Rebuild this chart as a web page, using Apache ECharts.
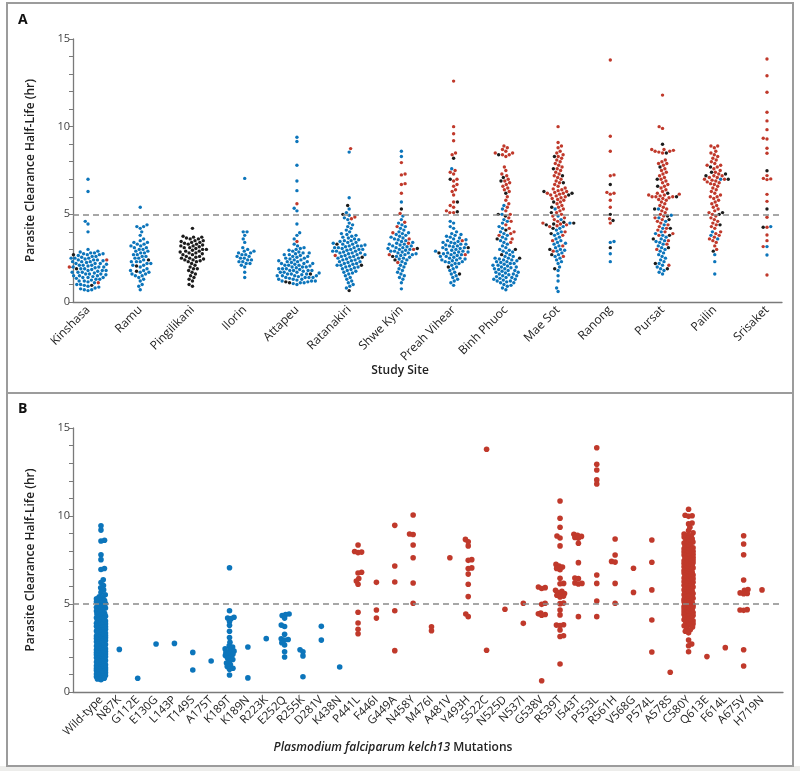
<!DOCTYPE html>
<html><head><meta charset="utf-8">
<script src="https://cdn.jsdelivr.net/npm/echarts@6/dist/echarts.min.js"></script>
<style>html,body{margin:0;padding:0;background:#fff}#c{width:800px;height:771px}</style>
</head><body><div id="c"></div>
<script>
// ---------------- DATA ----------------
const sites = ['Kinshasa','Ramu','Pingilikani','Ilorin','Attapeu','Ratanakiri','Shwe Kyin','Preah Vihear','Binh Phuoc','Mae Sot','Ranong','Pursat','Pailin','Srisaket'];
const yTickLabels = [0, 5, 10, 15];

// Panel A: half-lives by site, split by kelch13 genotype colour
const siteWildType = [
 [7.0,6.3,4.6,4.45,4.0,3.0,2.9,2.85,2.8,2.8,2.75,2.75,2.7,2.7,2.65,2.6,2.6,2.55,2.5,2.5,2.5,2.45,2.4,2.4,2.4,2.35,2.3,2.3,2.3,2.25,2.2,2.2,2.2,2.15,2.1,2.1,2.1,2.05,2.0,2.0,2.0,1.95,1.9,1.9,1.85,1.8,1.8,1.8,1.75,1.7,1.7,1.7,1.65,1.6,1.6,1.6,1.55,1.5,1.5,1.5,1.45,1.4,1.4,1.4,1.35,1.3,1.3,1.25,1.2,1.2,1.15,1.1,1.0,1.0,0.95,0.9,0.85,0.8,0.75,0.7,0.7,0.65],
 [5.4,4.4,4.3,4.3,4.2,4.0,3.8,3.6,3.5,3.4,3.4,3.3,3.3,3.2,3.2,3.1,3.1,3.0,3.0,2.9,2.9,2.8,2.8,2.7,2.7,2.6,2.6,2.5,2.5,2.4,2.3,2.3,2.3,2.2,2.2,2.1,2.1,2.0,1.9,1.8,1.8,1.7,1.7,1.6,1.6,1.5,1.5,1.4,1.3,1.2,1.0,0.9,0.7],
 [],
 [7.05,4.0,4.0,3.8,3.6,3.4,3.1,3.0,2.9,2.9,2.8,2.8,2.7,2.7,2.6,2.6,2.5,2.5,2.4,2.4,2.3,2.3,2.2,2.2,2.1,2.0,1.7,1.4],
 [9.4,9.15,7.8,6.9,6.35,5.35,5.2,4.45,3.95,3.8,3.6,3.3,3.2,3.1,3.05,3.0,2.95,2.9,2.85,2.8,2.8,2.75,2.7,2.7,2.65,2.6,2.6,2.55,2.5,2.5,2.45,2.4,2.4,2.35,2.3,2.3,2.3,2.25,2.2,2.2,2.2,2.15,2.1,2.1,2.1,2.05,2.0,2.0,2.0,1.95,1.9,1.9,1.9,1.85,1.8,1.8,1.8,1.8,1.75,1.7,1.7,1.7,1.65,1.6,1.6,1.6,1.55,1.5,1.5,1.5,1.5,1.45,1.4,1.4,1.4,1.4,1.35,1.3,1.3,1.3,1.25,1.2,1.2,1.2,1.15,1.1,1.1,1.05,1.0],
 [8.55,5.95,5.3,5.1,4.95,4.8,4.7,4.5,4.4,4.3,4.2,4.1,4.0,3.9,3.85,3.8,3.75,3.7,3.65,3.6,3.55,3.5,3.5,3.45,3.4,3.4,3.35,3.3,3.3,3.25,3.2,3.2,3.2,3.15,3.1,3.1,3.1,3.05,3.0,3.0,3.0,2.95,2.9,2.9,2.9,2.85,2.8,2.8,2.8,2.75,2.7,2.7,2.65,2.6,2.6,2.55,2.5,2.5,2.45,2.4,2.4,2.35,2.3,2.3,2.25,2.2,2.2,2.15,2.1,2.1,2.05,2.0,2.0,1.95,1.9,1.85,1.8,1.75,1.7,1.65,1.6,1.5,1.4,1.3,1.2,1.1,1.0,0.9,0.8],
 [8.6,8.3,5.7,4.9,4.7,4.5,4.4,4.3,4.2,4.1,4.0,3.95,3.9,3.85,3.8,3.75,3.7,3.65,3.6,3.55,3.5,3.45,3.4,3.35,3.3,3.3,3.25,3.2,3.2,3.15,3.1,3.1,3.05,3.0,3.0,2.95,2.9,2.9,2.85,2.8,2.8,2.75,2.7,2.7,2.65,2.6,2.55,2.5,2.45,2.4,2.3,2.2,2.1,2.0,1.9,1.8,1.7,1.6,1.5,1.4,1.3,1.1,0.75],
 [7.6,4.6,4.5,4.3,4.2,4.0,3.9,3.85,3.8,3.75,3.7,3.65,3.6,3.55,3.5,3.45,3.4,3.4,3.35,3.3,3.3,3.25,3.2,3.2,3.15,3.1,3.1,3.05,3.0,3.0,2.95,2.9,2.9,2.85,2.85,2.8,2.8,2.75,2.7,2.7,2.65,2.6,2.6,2.55,2.5,2.5,2.45,2.4,2.4,2.35,2.3,2.3,2.25,2.2,2.2,2.1,2.0,1.9,1.8,1.7,1.6,1.5,1.4,1.3,1.2,1.1,0.95],
 [5.5,5.3,5.0,4.7,4.6,4.5,4.3,4.2,4.0,3.9,3.8,3.7,3.6,3.5,3.4,3.3,3.2,3.1,3.0,2.95,2.9,2.85,2.8,2.7,2.6,2.6,2.5,2.5,2.45,2.4,2.4,2.35,2.3,2.3,2.25,2.2,2.2,2.15,2.1,2.1,2.05,2.0,2.0,1.95,1.9,1.9,1.85,1.8,1.8,1.75,1.7,1.7,1.65,1.6,1.6,1.55,1.5,1.5,1.45,1.4,1.4,1.35,1.3,1.3,1.25,1.2,1.2,1.15,1.1,1.1,1.0,0.95,0.9,0.8,0.7],
 [5.3,4.9,4.7,4.5,4.3,4.2,4.1,4.0,3.9,3.8,3.7,3.6,3.5,3.4,3.35,3.3,3.2,3.1,3.0,2.95,2.9,2.8,2.7,2.6,2.5,2.4,2.3,2.2,2.0,1.8,1.5,1.2,0.8,0.6],
 [3.45,3.4,2.75,2.3],
 [5.3,4.95,4.8,4.6,4.4,4.2,4.0,3.9,3.8,3.7,3.6,3.5,3.45,3.4,3.3,3.2,3.1,3.0,2.9,2.8,2.7,2.6,2.5,2.4,2.3,2.2,2.1,2.0,1.9,1.8,1.7,1.6],
 [7.0,4.0,3.8,3.6,2.7,2.3,1.6],
 [4.3,3.16,2.68]
];
const siteC580Y = [
 [2.0,1.1,2.4],
 [],
 [],
 [],
 [5.6,3.45],
 [8.75,4.85,4.75,2.65],
 [7.95,7.3,7.25,6.75,6.7,6.2,5.05,4.55,4.3,3.95,3.6,3.35,3.0,2.7,2.25],
 [12.6,10.0,9.6,9.2,8.5,8.4,7.5,7.4,7.3,7.0,6.9,6.7,6.6,6.4,6.3,6.1,5.7,5.5,5.4,5.2,5.1,5.1,3.5,2.7],
 [8.9,8.8,8.7,8.6,8.5,8.5,8.4,8.4,8.3,7.7,7.5,7.3,7.2,7.0,6.9,6.8,6.7,6.6,6.5,6.4,6.3,6.0,5.8,5.6,5.4,5.2,5.0,4.8,4.6,4.4,4.2,4.0,3.9,3.8,3.6,3.4],
 [10.0,9.1,8.9,8.8,8.6,8.5,8.4,8.3,8.2,8.1,8.0,7.9,7.8,7.7,7.6,7.5,7.4,7.3,7.2,7.1,7.0,6.9,6.8,6.7,6.6,6.5,6.45,6.4,6.35,6.3,6.25,6.2,6.2,6.15,6.1,6.05,6.0,5.95,5.9,5.85,5.8,5.7,5.6,5.5,5.4,5.3,5.2,5.1,5.0,4.9,4.8,4.7,4.6,4.5,4.45,4.4,4.35,4.3,4.0,3.8,3.5,3.2,2.9,2.6],
 [13.8,9.45,8.6,7.2,7.25,6.2,6.15,6.25,5.8,5.4,4.75,4.5],
 [11.8,10.0,9.9,8.7,8.7,8.65,8.6,8.6,8.55,8.5,8.1,8.0,7.9,7.9,7.8,7.6,7.5,7.4,7.3,7.2,7.1,7.0,6.9,6.8,6.7,6.6,6.5,6.4,6.3,6.2,6.15,6.1,6.1,6.05,6.0,6.0,6.0,5.95,5.9,5.85,5.8,5.7,5.6,5.5,5.4,5.3,5.2,5.1,5.0,4.9,4.8,4.7,4.6,4.5,4.4,4.3,4.2,4.1,4.0,3.9,3.8,3.5,3.3,3.0,2.1],
 [8.9,8.9,8.8,8.6,8.5,8.4,8.3,8.2,8.1,8.0,7.9,7.8,7.8,7.7,7.6,7.5,7.4,7.3,7.2,7.2,7.1,7.1,7.0,7.0,6.95,6.9,6.85,6.8,6.75,6.7,6.6,6.5,6.4,6.3,6.2,6.1,6.0,6.0,5.9,5.8,5.7,5.6,5.5,5.4,5.3,5.2,5.1,5.0,4.9,4.8,4.7,4.6,4.5,4.4,4.3,4.2,4.0,3.9,3.8,3.7,3.6,3.5,3.4,3.2,3.0],
 [13.86,12.9,11.96,10.82,10.33,9.83,9.34,9.3,8.77,8.48,7.21,7.05,7.02,6.98,6.14,5.74,4.83,4.26,3.82,3.5,3.16,1.54]
];
const siteOtherMutant = [
 [1.9,0.95,2.7],
 [2.4,2.05,1.75],
 [4.2,3.75,3.7,3.7,3.65,3.6,3.6,3.5,3.5,3.45,3.4,3.4,3.35,3.3,3.3,3.25,3.2,3.2,3.15,3.1,3.1,3.05,3.0,3.0,2.95,2.9,2.9,2.85,2.8,2.8,2.75,2.7,2.7,2.6,2.6,2.55,2.5,2.5,2.45,2.4,2.4,2.35,2.3,2.3,2.2,2.1,2.0,1.9,1.9,1.8,1.7,1.6,1.5,1.4,1.3,1.2,1.0,0.9],
 [],
 [1.1,1.6,1.15],
 [5.5,5.0,3.3,2.1,2.55,0.65],
 [5.3,3.05,2.6,2.4],
 [8.2,7.0,5.7,5.15,3.1,2.8,1.6,2.0],
 [8.4,7.1,6.9,6.2,5.0,4.9,4.1,3.6,3.0,2.7,2.5],
 [8.3,7.6,7.2,6.8,6.3,6.2,6.1,5.7,5.4,5.1,4.55,4.5,4.45,4.4,4.2,3.9,3.0,2.7,1.9],
 [6.7,5.0,4.65,3.1],
 [9.0,8.5,7.7,7.0,6.6,6.2,6.0,5.3,4.9,4.7,4.2,3.8,3.6,3.1,2.2,1.9],
 [7.7,7.4,7.3,7.2,7.0,5.1,5.0,4.4,2.9],
 [7.49,5.3,4.26]
];

// Panel B: half-lives by kelch13 mutation
const mutations = ['Wild-type','N87K','G112E','E130G','L143P','T149S','A175T','K189T','K189N','R223K','E252Q','R255K','D281V','K438N','P441L','F446I','G449A','N458Y','M476I','A481V','Y493H','S522C','N525D','N537I','G538V','R539T','I543T','P553L','R561H','V568G','P574L','A578S','C580Y','Q613E','F614L','A675V','H719N'];
const firstPropellerMutation = 'P441L';
const mutationValues = [
 [9.45,9.2,8.62,8.58,7.8,7.52,7.02,6.96,6.38,6.22,6.05,5.92,5.8,5.66,5.52,5.41,5.37,5.3,5.24,5.2,5.13,5.07,5.03,4.98,4.9,4.88,4.81,4.77,4.7,4.66,4.6,4.55,4.47,4.43,4.39,4.31,4.27,4.22,4.18,4.12,4.07,4.03,3.99,3.94,3.9,3.87,3.83,3.79,3.74,3.71,3.69,3.63,3.6,3.57,3.52,3.49,3.47,3.42,3.38,3.35,3.32,3.28,3.24,3.21,3.18,3.14,3.1,3.08,3.04,3.01,2.98,2.95,2.92,2.88,2.85,2.82,2.8,2.76,2.73,2.7,2.66,2.63,2.61,2.57,2.54,2.51,2.48,2.45,2.42,2.4,2.36,2.33,2.3,2.27,2.24,2.21,2.18,2.16,2.12,2.09,2.06,2.03,2.0,1.97,1.94,1.91,1.89,1.85,1.82,1.79,1.76,1.73,1.7,1.67,1.64,1.62,1.58,1.55,1.52,1.49,1.46,1.43,1.4,1.37,1.34,1.31,1.28,1.25,1.22,1.19,1.16,1.13,1.1,1.06,1.02,0.98,0.94,0.9,0.86,0.82,0.78,0.74,0.7],
 [2.42],
 [0.78],
 [2.73],
 [2.76],
 [2.25,1.25],
 [1.76],
 [7.06,4.62,4.25,4.2,4.18,4.0,3.79,3.45,3.1,2.82,2.62,2.55,2.45,2.4,2.32,2.25,2.2,2.15,2.08,2.0,1.92,1.85,1.75,1.65,1.55,1.45,1.35,1.29,0.97],
 [2.56,0.8],
 [3.03],
 [4.43,4.4,4.35,4.2,3.8,3.72,3.28,3.02,2.98,2.95,2.8,2.67,2.29,1.99],
 [2.4,2.28,2.05,0.87],
 [3.73,2.95],
 [1.42],
 [8.35,7.98,7.95,7.92,6.8,6.76,6.45,6.3,6.12,4.53,3.92,3.56,3.31],
 [6.23,4.66,4.2],
 [9.47,7.16,6.25,4.62,2.35],
 [10.06,8.98,8.95,8.35,7.63,6.19,5.04],
 [3.71,3.48],
 [7.63],
 [8.67,8.54,8.3,7.52,7.48,7.05,7.01,6.7,6.12,5.42,4.43,4.28],
 [13.79,2.37],
 [4.7],
 [5.04,3.9],
 [5.97,5.93,5.88,5.04,4.98,4.48,4.44,4.4,4.36,0.64],
 [10.85,9.87,9.36,8.86,8.75,8.3,7.25,7.15,7.1,7.02,6.95,6.46,6.17,6.15,5.78,5.72,5.65,5.6,5.55,5.5,5.45,5.4,5.05,5.02,4.66,4.38,3.82,3.8,3.78,3.52,3.2,3.15,1.59],
 [8.96,8.9,8.84,8.78,8.73,8.45,7.35,6.48,6.44,6.2,6.17,6.14,4.28],
 [13.88,12.94,12.61,12.05,11.82,6.65,6.17,5.17,4.28],
 [8.69,7.78,7.42,7.38,6.17,5.04],
 [7.03,5.66],
 [8.64,7.37,5.8,4.09,2.27],
 [1.12],
 [10.38,10.04,10.01,9.98,9.6,9.55,9.36,9.17,9.05,8.98,8.92,8.88,8.81,8.74,8.7,8.63,8.58,8.52,8.47,8.41,8.36,8.3,8.25,8.2,8.14,8.1,8.05,8.0,7.96,7.91,7.86,7.82,7.78,7.74,7.7,7.65,7.62,7.58,7.54,7.5,7.46,7.42,7.38,7.34,7.3,7.27,7.23,7.2,7.16,7.12,7.08,7.05,7.01,6.98,6.94,6.9,6.87,6.83,6.8,6.76,6.72,6.69,6.65,6.62,6.58,6.55,6.51,6.48,6.44,6.41,6.37,6.34,6.3,6.27,6.24,6.2,6.17,6.13,6.1,6.06,6.03,6.0,5.96,5.93,5.9,5.86,5.83,5.8,5.76,5.73,5.7,5.66,5.63,5.6,5.56,5.53,5.5,5.46,5.43,5.4,5.36,5.33,5.3,5.26,5.23,5.2,5.16,5.13,5.1,5.06,5.03,5.0,4.96,4.93,4.9,4.86,4.83,4.8,4.76,4.72,4.68,4.64,4.6,4.56,4.52,4.48,4.44,4.4,4.35,4.3,4.25,4.2,4.15,4.1,4.05,4.0,3.94,3.88,3.82,3.76,3.7,3.62,3.54,3.45,3.36,2.95,2.73,2.63,2.29],
 [2.01],
 [2.52],
 [8.88,8.41,7.8,6.36,5.82,5.78,5.63,5.6,5.58,4.68,4.66,4.64,2.4,1.48],
 [5.8]
];

// ---------------- STYLE / LAYOUT ----------------
const BLUE = '#0c75bb', RED = '#c0392b', BLACK = '#1c1c1c';
const FONT = '"Open Sans", "DejaVu Sans", sans-serif';
const A = { frameLeft: 73, frameW: 709, top: 39, h: 263, dataLeft: 61.9, dataW: 731.2 };
const B = { frameLeft: 73, frameW: 710, top: 428, h: 264, dataLeft: 91.8, dataW: 679.4 };

// deterministic beeswarm placement (pixel offsets)
function swarm(values, pxPerUnit, d, maxW) {
  const order = values.map((v, i) => i).sort((a, b) => values[a] - values[b]);
  const placed = [], res = new Array(values.length);
  order.forEach((idx, k) => {
    const y = values[idx] * pxPerUnit;
    const near = placed.filter(p => Math.abs(p.y - y) < d);
    const cands = [0];
    near.forEach(p => { const dx = Math.sqrt(d * d - (p.y - y) * (p.y - y)); cands.push(p.x + dx + 0.01, p.x - dx - 0.01); });
    cands.sort((a, b) => (Math.abs(a) - Math.abs(b)) || (k % 2 ? a - b : b - a));
    let x = null;
    for (const c of cands) {
      if (Math.abs(c) > maxW) continue;
      if (near.every(p => (p.x - c) * (p.x - c) + (p.y - y) * (p.y - y) >= d * d - 0.001)) { x = c; break; }
    }
    if (x === null) {
      let best = 0, bestD = -1;
      for (let t = -maxW; t <= maxW + 1e-9; t += maxW / 5) {
        const md = Math.min(...near.map(p => (p.x - t) * (p.x - t) + (p.y - y) * (p.y - y)));
        if (md > bestD + 1e-6) { bestD = md; best = t; }
      }
      x = best;
    }
    placed.push({ x, y }); res[idx] = x;
  });
  return res;
}

// Panel A points
const aPyU = A.h / 15, aPxCat = A.dataW / sites.length;
const aBlue = [], aRed = [], aBlack = [];
sites.forEach((s, i) => {
  const vals = [], cols = [];
  siteWildType[i].forEach(v => { vals.push(v); cols.push(0); });
  siteC580Y[i].forEach(v => { vals.push(v); cols.push(1); });
  siteOtherMutant[i].forEach(v => { vals.push(v); cols.push(2); });
  const off = swarm(vals, aPyU, 3.8, Infinity);
  vals.forEach((v, j) => {
    const pt = [i + off[j] / aPxCat, v];
    [aBlue, aRed, aBlack][cols[j]].push(pt);
  });
});

// Panel B points
const bPyU = B.h / 15, bPxCat = B.dataW / mutations.length;
const propIdx = mutations.indexOf(firstPropellerMutation);
const bBlue = [], bRed = [];
mutations.forEach((m, i) => {
  const vals = mutationValues[i];
  const off = swarm(vals, bPyU, 3.6, 4.5);
  vals.forEach((v, j) => { (i < propIdx ? bBlue : bRed).push([i + off[j] / bPxCat, v]); });
});

function frameY(gi) {
  return { gridIndex: gi, type: 'value', min: 0, max: 15, interval: 1,
    name: 'Parasite Clearance Half-Life (hr)', nameLocation: 'middle', nameGap: 36,
    nameTextStyle: { fontFamily: FONT, fontSize: 12, fontWeight: 600, color: '#222' },
    axisLine: { show: true, lineStyle: { color: '#7a7a7a', width: 1.3 } },
    axisTick: { show: true, length: 4, lineStyle: { color: '#7a7a7a', width: 1 } },
    axisLabel: { margin: 3, fontFamily: FONT, fontSize: 11, color: '#444',
      formatter: v => yTickLabels.indexOf(v) >= 0 ? String(v) : '' },
    splitLine: { show: false } };
}
function hiddenY(gi) { return { gridIndex: gi, type: 'value', min: 0, max: 15, show: false }; }
function frameX(gi) {
  return { gridIndex: gi, type: 'value', min: 0, max: 1, axisLine: { show: true, onZero: false, lineStyle: { color: '#7a7a7a', width: 1.3 } },
    axisTick: { show: false }, axisLabel: { show: false }, splitLine: { show: false } };
}
function catX(gi, data, fs) {
  return { gridIndex: gi, type: 'category', data: data, axisLine: { show: false }, axisTick: { show: false },
    axisLabel: { interval: 0, rotate: 45, margin: 6, fontFamily: FONT, fontSize: fs, color: '#222' } };
}
function dashLine(xi, yi) {
  return { type: 'scatter', xAxisIndex: xi, yAxisIndex: yi, data: [[0.5, 5]], symbolSize: 0, silent: true,
    markLine: { silent: true, symbol: 'none', label: { show: false },
      lineStyle: { type: [6, 4], color: '#8a8a8a', width: 1.5 }, data: [{ yAxis: 5 }] } };
}
function dots(xi, yi, data, color, size) {
  return { type: 'scatter', xAxisIndex: xi, yAxisIndex: yi, data: data, symbol: 'circle', symbolSize: size,
    itemStyle: { color: color, opacity: 1 }, silent: true };
}

const option = {
  animation: false,
  backgroundColor: '#ffffff',
  grid: [
    { left: A.frameLeft, top: A.top, width: A.frameW, height: A.h },
    { left: A.dataLeft, top: A.top, width: A.dataW, height: A.h },
    { left: B.frameLeft, top: B.top, width: B.frameW, height: B.h },
    { left: B.dataLeft, top: B.top, width: B.dataW, height: B.h }
  ],
  xAxis: [
    frameX(0),
    catX(1, sites, 12),
    { gridIndex: 1, type: 'value', min: -0.5, max: sites.length - 0.5, show: false },
    frameX(2),
    catX(3, mutations, 11.5),
    { gridIndex: 3, type: 'value', min: -0.5, max: mutations.length - 0.5, show: false }
  ],
  yAxis: [frameY(0), hiddenY(1), frameY(2), hiddenY(3)],
  series: [
    dashLine(0, 0),
    dots(2, 1, aBlue, BLUE, 3.4),
    dots(2, 1, aRed, RED, 3.4),
    dots(2, 1, aBlack, BLACK, 3.4),
    dashLine(3, 2),
    dots(5, 3, bBlue, BLUE, 5.6),
    dots(5, 3, bRed, RED, 5.6)
  ],
  graphic: [
    { type: 'rect', shape: { x: 0, y: 766, width: 800, height: 5 }, style: { fill: '#ededeb' }, silent: true },
    { type: 'rect', shape: { x: 7, y: 3, width: 786, height: 390 }, style: { fill: 'none', stroke: '#9c9c9c', lineWidth: 2 }, silent: true },
    { type: 'rect', shape: { x: 7, y: 393, width: 786, height: 373 }, style: { fill: 'none', stroke: '#9c9c9c', lineWidth: 2 }, silent: true },
    { type: 'text', x: 18, y: 13, style: { text: 'A', font: 'bold 14px ' + FONT, fill: '#111' }, silent: true },
    { type: 'text', x: 18, y: 402, style: { text: 'B', font: 'bold 14px ' + FONT, fill: '#111' }, silent: true },
    { type: 'text', x: 400, y: 371, style: { text: 'Study Site', font: '600 12px ' + FONT, fill: '#222', align: 'center', verticalAlign: 'middle' }, silent: true },
    { type: 'text', x: 393, y: 748, style: { text: '{i|Plasmodium falciparum kelch13} Mutations', font: '600 12px ' + FONT, fill: '#222', align: 'center', verticalAlign: 'middle',
        rich: { i: { fontStyle: 'italic', fontWeight: 600, fontSize: 12, fontFamily: FONT, fill: '#222' } } }, silent: true }
  ]
};
const chart = echarts.init(document.getElementById('c'), null, { renderer: 'canvas' });
chart.setOption(option);
</script></body></html>
